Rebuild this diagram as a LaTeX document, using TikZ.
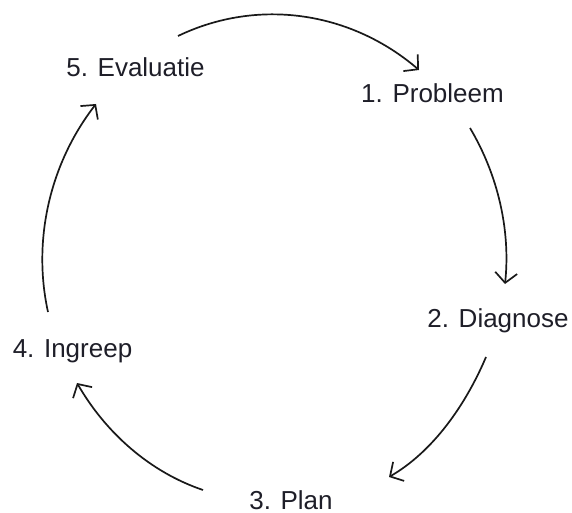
\documentclass[tikz,border=0pt]{standalone}
\usepackage{fontspec}
\setmainfont{Liberation Sans}
\usetikzlibrary{arrows.meta}
\definecolor{txt}{HTML}{1E1E28}
\tikzset{
  lbl/.style={anchor=base, inner sep=0pt, text depth=0pt, text=txt, font=\fontsize{26}{30}\selectfont},
  arr/.style={line width=1.7pt, draw=black!90, -{Straight Barb[length=10pt,width=22pt,line width=1.7pt]}}
}
\begin{document}
\begin{tikzpicture}[x=1pt,y=-1pt]
\useasboundingbox (0,0) rectangle (572,513);
\node[lbl] (n5) at (135.5,77) {5. Evaluatie};
\node[lbl] (n1) at (432.5,103) {1. Probleem};
\node[lbl] (n2) at (498,327) {2. Diagnose};
\node[lbl] (n4) at (72.5,357) {4. Ingreep};
\node[lbl] (n3) at (291,509) {3. Plan};
\draw[arr] ([shift={(42.5,-41)}]n5.base) .. controls +(80.0,-38.5) and +(-68.2,-58.5) .. ([shift={(-13.5,-33)}]n1.base);
\draw[arr] ([shift={(37.5,25)}]n1.base) .. controls +(27.6,46.4) and +(5.7,-54.4) .. ([shift={(7,-43)}]n2.base);
\draw[arr] ([shift={(-12,30)}]n2.base) .. controls +(-20.5,48.2) and +(44.0,-25.5) .. ([shift={(98,-32)}]n3.base);
\draw[arr] ([shift={(-88,-19)}]n3.base) .. controls +(-53.0,-17.9) and +(28.9,50.0) .. ([shift={(4.5,26)}]n4.base);
\draw[arr] ([shift={(-24.5,-45)}]n4.base) .. controls +(-16.1,-73.3) and +(-45.2,58.2) .. ([shift={(-39.5,27)}]n5.base);
\end{tikzpicture}
\end{document}
